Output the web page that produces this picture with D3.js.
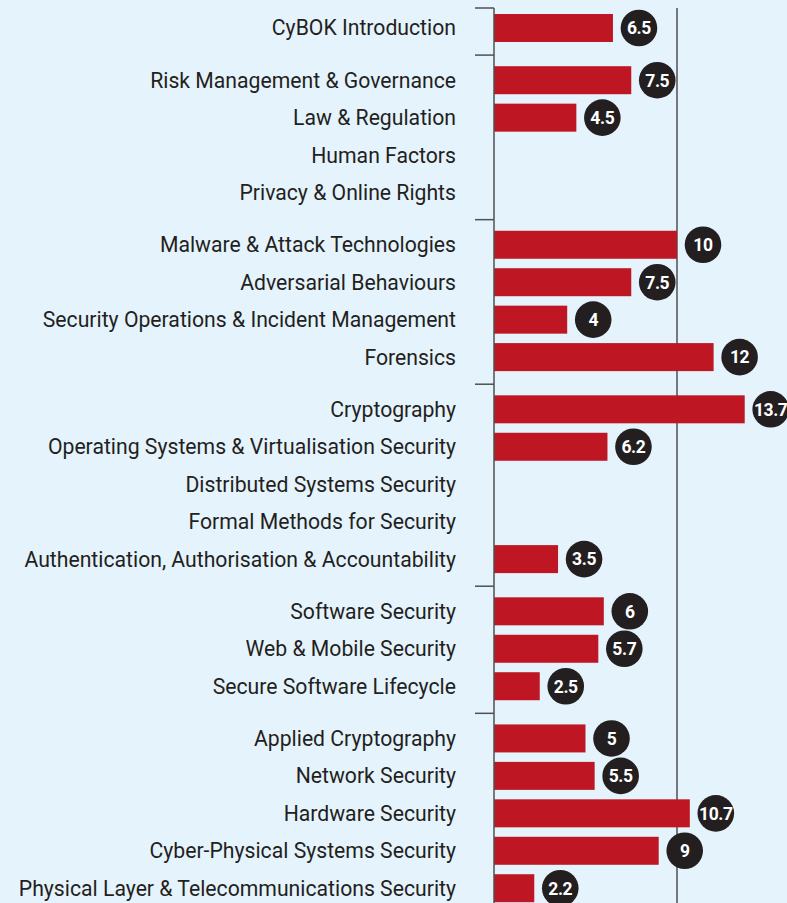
<!DOCTYPE html>
<html>
<head>
<meta charset="utf-8">
<script src="https://cdn.jsdelivr.net/npm/d3@7"></script>
<style>
  body { margin: 0; background: #e5f3fd; }
  svg { display: block; }
</style>
</head>
<body>
<svg id="chart"></svg>
<script>
// topics, grouped as in the original knowledge-area layout
var topics = [
  "CyBOK Introduction",
  "Risk Management & Governance",
  "Law & Regulation",
  "Human Factors",
  "Privacy & Online Rights",
  "Malware & Attack Technologies",
  "Adversarial Behaviours",
  "Security Operations & Incident Management",
  "Forensics",
  "Cryptography",
  "Operating Systems & Virtualisation Security",
  "Distributed Systems Security",
  "Formal Methods for Security",
  "Authentication, Authorisation & Accountability",
  "Software Security",
  "Web & Mobile Security",
  "Secure Software Lifecycle",
  "Applied Cryptography",
  "Network Security",
  "Hardware Security",
  "Cyber-Physical Systems Security",
  "Physical Layer & Telecommunications Security"
];
var groups = [0, 1, 1, 1, 1, 2, 2, 2, 2, 3, 3, 3, 3, 3, 4, 4, 4, 5, 5, 5, 5, 5];
var values = [6.5, 7.5, 4.5, null, null, 10, 7.5, 4, 12, 13.7, 6.2, null, null, 3.5,
              6, 5.7, 2.5, 5, 5.5, 10.7, 9, 2.2];
var refValue = 10;

var w = 787;
var h = 903;

var svg = d3.select("#chart")
  .attr("width", w)
  .attr("height", h);

var data = topics.map(function(t, i) {
  return {name: t, group: groups[i], value: values[i], slot: i + groups[i] * 0.394};
});

var x = d3.scaleLinear()
  .domain([0, 10])
  .range([494, 677]);

var y = d3.scaleLinear()
  .domain([0, 1])
  .range([28, 28 + 37.45]);

var axisColor = "#505050";

// separators between groups
var seps = [y(data[0].slot) - 20];
for (var i = 1; i < data.length; i++) {
  if (data[i].group != data[i - 1].group) {
    seps.push((y(data[i].slot) + y(data[i - 1].slot)) / 2 + 1);
  }
}

svg.append("g")
  .selectAll("line")
  .data(seps)
  .enter()
  .append("line")
  .attr("x1", x(0) - 19)
  .attr("x2", x(0))
  .attr("y1", function(d) {return d;})
  .attr("y2", function(d) {return d;})
  .attr("stroke", axisColor)
  .attr("stroke-width", 1.5);

// reference line at 10
svg.append("line")
  .attr("x1", x(refValue))
  .attr("x2", x(refValue))
  .attr("y1", seps[0])
  .attr("y2", h)
  .attr("stroke", axisColor)
  .attr("stroke-width", 1.5);

var withValue = data.filter(function(d) {return d.value != null;});

svg.append("g")
  .selectAll("rect")
  .data(withValue)
  .enter()
  .append("rect")
  .attr("x", x(0))
  .attr("y", function(d) {return y(d.slot) - 14;})
  .attr("width", function(d) {return x(d.value) - x(0);})
  .attr("height", 28)
  .attr("fill", "#be1622");

// axis line
svg.append("line")
  .attr("x1", x(0))
  .attr("x2", x(0))
  .attr("y1", seps[0])
  .attr("y2", h)
  .attr("stroke", axisColor)
  .attr("stroke-width", 1.5);

svg.append("g")
  .selectAll("text")
  .data(data)
  .enter()
  .append("text")
  .attr("x", 456)
  .attr("y", function(d) {return y(d.slot);})
  .attr("dy", "0.35em")
  .attr("text-anchor", "end")
  .attr("font-family", "Roboto, sans-serif")
  .attr("font-size", 21.2)
  .attr("fill", "#231f20")
  .text(function(d) {return d.name;});

var badge = svg.append("g")
  .selectAll("g")
  .data(withValue)
  .enter()
  .append("g")
  .attr("transform", function(d) {
    return "translate(" + (x(d.value) + 26) + "," + y(d.slot) + ")";
  });

badge.append("circle")
  .attr("r", 18.3)
  .attr("fill", "#231f20");

badge.append("text")
  .attr("text-anchor", "middle")
  .attr("dy", "0.36em")
  .attr("font-family", "Roboto, sans-serif")
  .attr("font-weight", "bold")
  .attr("font-size", 17.5)
  .attr("letter-spacing", "-0.4")
  .attr("fill", "#ffffff")
  .text(function(d) {return d.value;});
</script>
</body>
</html>
